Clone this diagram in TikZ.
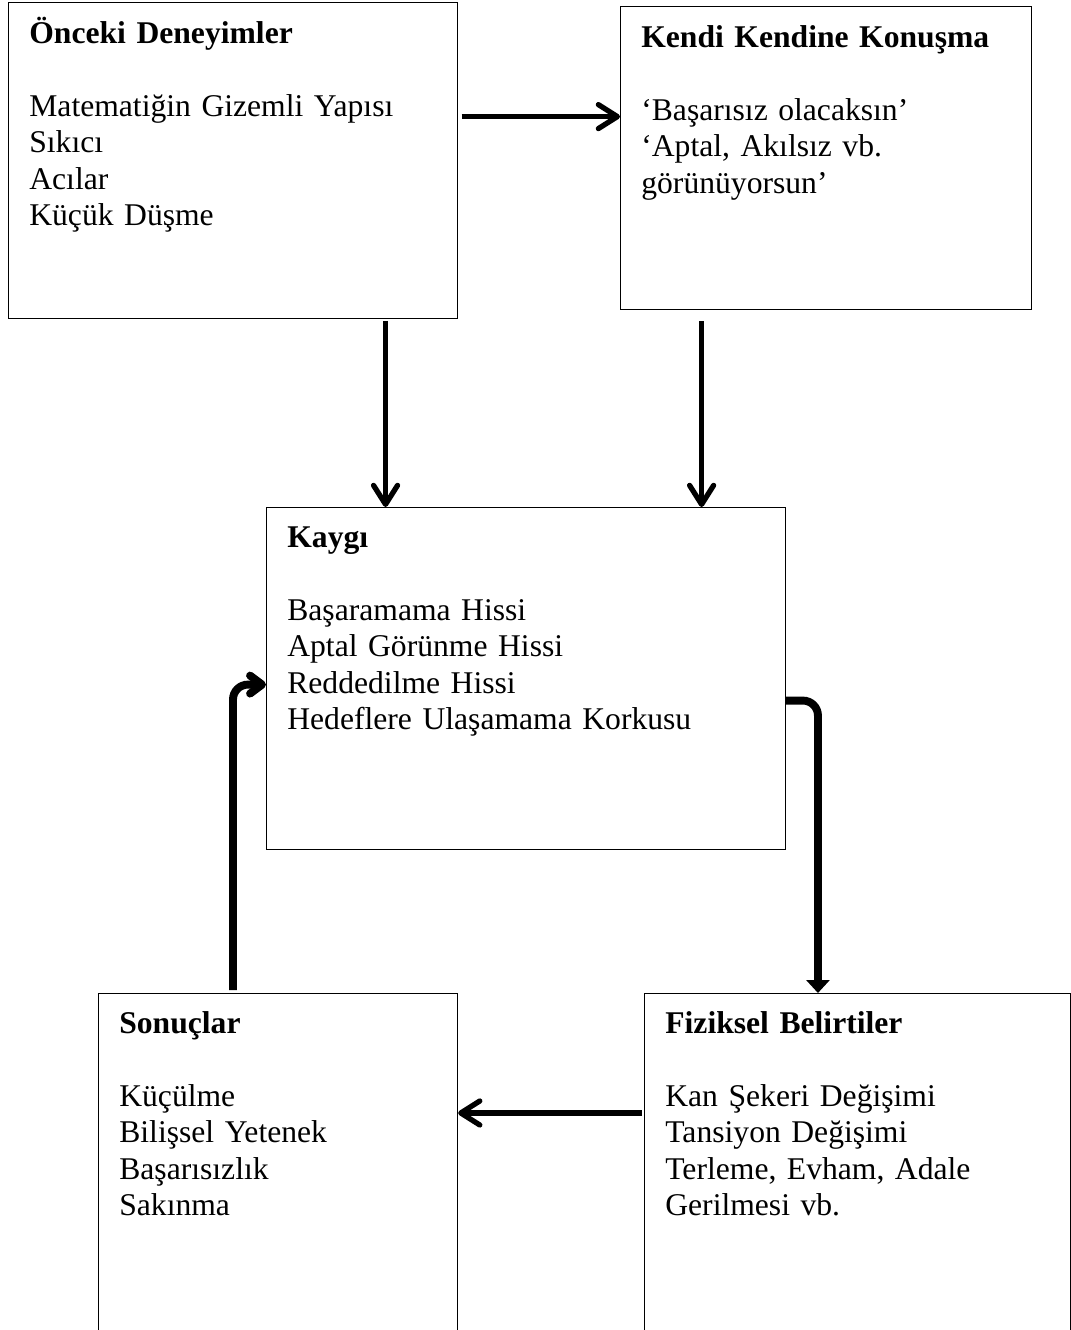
\documentclass[tikz,border=0pt]{standalone}
\usepackage{fontspec}
\setmainfont{Liberation Serif}
\usetikzlibrary{arrows.meta,positioning}

\tikzset{
  box/.style={draw, line width=0.7pt, rectangle, anchor=north west, inner sep=0pt},
  txt/.style={anchor=base west, inner sep=0pt, text width=10cm, align=left,
    font=\fontsize{18}{20.8}\selectfont},
  arr/.style={line width=3pt, -{Straight Barb[length=3.8mm,width=4.8mm,round]}},
  bendarr/.style={line width=4.5pt, rounded corners=0.3cm},
}

\begin{document}
\begin{tikzpicture}[x=0.02cm, y=-0.02cm]
    \useasboundingbox (0,0) rectangle (1071,1330);
    \clip (0,0) rectangle (1071,1330);

    \node[box, minimum width=8.98cm, minimum height=6.32cm] (onceki) at (8,2) {};
    \node[box, minimum width=8.22cm, minimum height=6.06cm] (kendi) at (620,6) {};
    \node[box, minimum width=10.38cm, minimum height=6.84cm] (kaygi) at (266,507) {};
    \node[box, minimum width=7.18cm, minimum height=7.4cm] (sonuc) at (98,993) {};
    \node[box, minimum width=8.52cm, minimum height=7.4cm] (fiz) at (644,993) {};

    \node[txt] (oncekitxt) at ([shift={(0.42cm,-0.82cm)}]onceki.north west)
        {\textbf{Önceki Deneyimler}\\[20.8pt]Matematiğin Gizemli Yapısı\\Sıkıcı\\Acılar\\Küçük Düşme};
    \node[txt] (kenditxt) at ([shift={(0.42cm,-0.82cm)}]kendi.north west)
        {\textbf{Kendi Kendine Konuşma}\\[20.8pt]‘Başarısız olacaksın’\\‘Aptal, Akılsız vb.\\görünüyorsun’};
    \node[txt] (kaygitxt) at ([shift={(0.42cm,-0.8cm)}]kaygi.north west)
        {\textbf{Kaygı}\\[20.8pt]Başaramama Hissi\\Aptal Görünme Hissi\\Reddedilme Hissi\\Hedeflere Ulaşamama Korkusu};
    \node[txt] (sonuctxt) at ([shift={(0.42cm,-0.8cm)}]sonuc.north west)
        {\textbf{Sonuçlar}\\[20.8pt]Küçülme\\Bilişsel Yetenek\\Başarısızlık\\Sakınma};
    \node[txt] (fiztxt) at ([shift={(0.42cm,-0.8cm)}]fiz.north west)
        {\textbf{Fiziksel Belirtiler}\\[20.8pt]Kan Şekeri Değişimi\\Tansiyon Değişimi\\Terleme, Evham, Adale\\Gerilmesi vb.};

    \coordinate (ab) at ([yshift=0.88cm]onceki.east);
    \coordinate (ac) at ([xshift=3.05cm]onceki.south);
    \coordinate (bc) at ([xshift=-2.49cm]kendi.south);
    \coordinate (ed) at ([yshift=-2.4cm]fiz.north west);

    \draw[arr, shorten <=2pt] (ab) -- (ab -| kendi.west);
    \draw[arr, shorten <=1pt] (ac) -- (ac |- kaygi.north);
    \draw[arr, shorten <=0.22cm] (bc) -- (bc |- kaygi.north);
    \draw[arr, shorten <=1pt] (ed) -- (ed -| sonuc.east);
    \draw[bendarr, -{Triangle[length=2.6mm,width=4.6mm]}] ([yshift=-0.44cm]kaygi.east) -| ([xshift=3.48cm]fiz.north west);
    \draw[bendarr, -{Straight Barb[length=2.4mm,width=3.6mm,round]}] ([xshift=2.7cm,yshift=0.06cm]sonuc.north west) |- ([yshift=-0.12cm]kaygi.west);
\end{tikzpicture}
\end{document}
